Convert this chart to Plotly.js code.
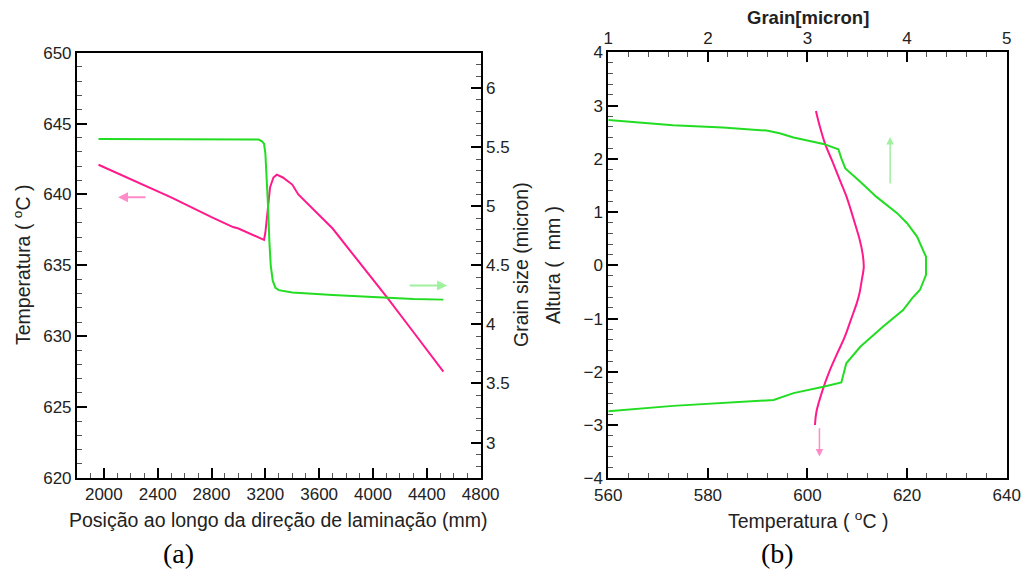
<!DOCTYPE html>
<html>
<head>
<meta charset="utf-8">
<script src="https://cdn.plot.ly/plotly-3.0.1.min.js"></script>
<style>html,body{margin:0;padding:0;background:#fff;}#chart{width:1022px;height:570px;}</style>
</head>
<body>
<div id="chart"></div>
<script>
// (a) Temperature along rolling direction (left axis)
const posTemp = [1960, 2220, 2500, 2800, 2960, 3000, 3100, 3170, 3190, 3200, 3215, 3235, 3260, 3285, 3330, 3400, 3445, 3530, 3700, 3850, 4000, 4100, 4300, 4523];
const tempA   = [642.1, 641.0, 639.8, 638.4, 637.7, 637.6, 637.2, 636.9, 636.8, 637.3, 638.8, 640.5, 641.2, 641.4, 641.2, 640.7, 640.0, 639.2, 637.6, 635.8, 634.0, 632.8, 630.3, 627.5];
// (a) Grain size along rolling direction (right axis)
const posGrain = [1960, 2500, 3000, 3150, 3175, 3190, 3200, 3210, 3220, 3230, 3240, 3255, 3275, 3300, 3400, 3700, 4000, 4300, 4523];
const grainA   = [5.57, 5.57, 5.57, 5.565, 5.55, 5.53, 5.45, 5.25, 5.0, 4.7, 4.5, 4.37, 4.31, 4.29, 4.27, 4.25, 4.23, 4.215, 4.21];
// (b) Temperature through thickness
const heightT = [2.90, 2.6, 2.29, 1.95, 1.60, 1.3, 0.98, 0.7, 0.475, 0.2, -0.03, -0.28, -0.5, -0.71, -1.0, -1.34, -1.65, -1.97, -2.34, -2.75, -3.0];
const tempB   = [601.7, 602.5, 603.5, 605.0, 606.5, 607.8, 608.9, 609.8, 610.5, 611.1, 611.3, 610.9, 610.5, 609.9, 608.8, 607.5, 606.0, 604.5, 603.05, 601.8, 601.5];
// (b) Grain through thickness
const grainB  = [1.0, 1.65, 2.15, 2.59, 2.72, 2.86, 3.16, 3.31, 3.34, 3.38, 3.53, 3.69, 3.90, 4.0, 4.10, 4.16, 4.19, 4.19, 4.13, 4.05, 3.96, 3.76, 3.53, 3.39, 3.36, 3.34, 3.16, 2.86, 2.66, 2.32, 1.65, 1.0];
const heightG = [2.73, 2.63, 2.59, 2.53, 2.48, 2.40, 2.28, 2.18, 2.01, 1.82, 1.57, 1.29, 0.98, 0.79, 0.54, 0.29, 0.16, -0.18, -0.46, -0.62, -0.84, -1.15, -1.53, -1.84, -2.03, -2.20, -2.28, -2.40, -2.53, -2.57, -2.64, -2.74];

const PINK = '#ff1a8c', GREEN = '#22dd22';
const FONT = 'Liberation Sans, Arial, sans-serif';
const TXT = '#222';

const traces = [
  {x: posTemp, y: tempA, xaxis: 'x', yaxis: 'y', mode: 'lines', line: {color: PINK, width: 2}},
  {x: posGrain, y: grainA, xaxis: 'x', yaxis: 'y2', mode: 'lines', line: {color: GREEN, width: 2}},
  {x: tempB, y: heightT, xaxis: 'x3', yaxis: 'y3', mode: 'lines', line: {color: PINK, width: 2, shape: 'spline'}},
  {x: grainB, y: heightG, xaxis: 'x4', yaxis: 'y3', mode: 'lines', line: {color: GREEN, width: 2}}
];

function minor(dt, t0) {
  const m = {ticks: 'inside', ticklen: 5, tickwidth: 1, tickcolor: '#555', showgrid: false, dtick: dt};
  if (t0 !== undefined) m.tick0 = t0;
  return m;
}
function ax(extra) {
  return Object.assign({
    showgrid: false, zeroline: false, showline: true, linecolor: '#000', linewidth: 2,
    ticks: 'inside', ticklen: 10, tickwidth: 2, tickcolor: '#000',
    tickfont: {family: FONT, size: 17, color: TXT}
  }, extra);
}
function label(x, y, text, size, angle, family) {
  return {xref: 'paper', yref: 'paper', x: x / 1022, y: 1 - y / 570, xanchor: 'center', yanchor: 'middle',
          text: text, textangle: angle || 0, showarrow: false,
          font: {family: family || FONT, size: size, color: family ? '#000' : TXT}};
}
function arrow(xr, yr, x, y, axv, ayv, color, w) {
  return {xref: xr, yref: yr, axref: xr, ayref: yr, x: x, y: y, ax: axv, ay: ayv, text: '',
          showarrow: true, arrowhead: 2, arrowsize: 1, arrowwidth: w, arrowcolor: color};
}

const SERIF = 'Liberation Serif, Times New Roman, serif';
const layout = {
  width: 1022, height: 570,
  margin: {l: 0, r: 0, t: 0, b: 0},
  paper_bgcolor: '#fff', plot_bgcolor: '#fff',
  showlegend: false,
  xaxis: ax({domain: [0.0753, 0.4703], range: [1800, 4800], tick0: 2000, dtick: 400, anchor: 'y', mirror: true, minor: minor(100, 2000)}),
  yaxis: ax({domain: [0.1614, 0.9075], range: [620, 650], dtick: 5, anchor: 'x', minor: minor(1)}),
  yaxis2: ax({overlaying: 'y', side: 'right', range: [2.7, 6.3], tick0: 3, dtick: 0.5, anchor: 'x', minor: minor(0.1, 3)}),
  xaxis3: ax({domain: [0.5952, 0.9850], range: [560, 640], dtick: 20, anchor: 'y3', minor: minor(4)}),
  xaxis4: ax({overlaying: 'x3', side: 'top', range: [1, 5], dtick: 1, anchor: 'y3', minor: minor(0.2)}),
  yaxis3: ax({domain: [0.1609, 0.9082], range: [-4, 4], dtick: 1, anchor: 'x3', mirror: true, minor: minor(0.2)}),
  annotations: [
    label(22, 265, 'Temperatura ( <sup>o</sup>C )', 19.5, -90),
    label(521, 265, 'Grain size (micron)', 19.5, -90),
    label(278, 520, 'Posição ao longo da direção de laminação (mm)', 19.5),
    label(553, 265, 'Altura (  mm )', 19.5, -90),
    label(808, 520, 'Temperatura ( <sup>o</sup>C )', 19.5),
    label(808, 18, '<b>Grain[micron]</b>', 18.5),
    label(178, 553, '(a)', 28, 0, SERIF),
    label(777, 553, '(b)', 28, 0, SERIF),
    arrow('x', 'y', 2105, 639.8, 2320, 639.8, '#ff8cc8', 2),
    arrow('x', 'y2', 4551, 4.33, 4261, 4.33, '#9ff09f', 2),
    arrow('x4', 'y3', 3.83, 2.41, 3.83, 1.51, '#9ff09f', 1.5),
    arrow('x3', 'y3', 602.4, -3.59, 602.4, -3.03, '#ff8cc8', 1.5)
  ]
};

Plotly.newPlot('chart', traces, layout, {displayModeBar: false, staticPlot: true});
</script>
</body>
</html>
